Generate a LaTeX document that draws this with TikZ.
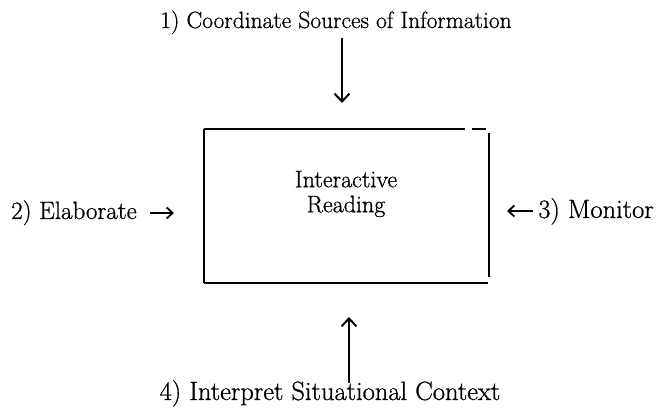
\documentclass[tikz,border=0pt]{standalone}
\usepackage{fontspec}
\newfontfamily\rfont{Latin Modern Roman}[FakeBold=0.8]
\usetikzlibrary{arrows.meta}
\begin{document}
\begin{tikzpicture}[x=1pt,y=-1pt,
  lbl/.style={anchor=base,inner sep=0pt},
  arr/.style={line width=2.2pt,-{Straight Barb[length=8pt,width=15pt,line width=2pt]}},
  sarr/.style={line width=1.8pt,-{Straight Barb[length=6pt,width=11pt,line width=1.8pt]}},
  edge/.style={line width=1.6pt}]
\useasboundingbox (0,0) rectangle (657,411);
% box
\node[minimum width=286pt,minimum height=154pt,inner sep=0pt] (box) at (347,206) {};
\node[align=center,inner sep=0pt,font=\rfont\fontsize{24}{25}\selectfont] (txt) at (346,194) {Interactive\\Reading};
\draw[edge] (box.north west) -- ([xshift=-25pt]box.north east);
\draw[edge] ([xshift=-18pt]box.north east) -- ([xshift=-4pt]box.north east);
\draw[edge] ([xshift=-1pt,yshift=-4pt]box.north east) -- ([xshift=-1pt,yshift=6pt]box.south east);
\draw[edge] (box.north west) -- (box.south west);
\draw[edge] (box.south west) -- ([xshift=-2pt]box.south east);
% labels
\node[lbl,font=\rfont\fontsize{23.5}{28}\selectfont] (t1) at (336,28) {1) Coordinate Sources of Information};
\node[lbl,font=\rfont\fontsize{25}{30}\selectfont] (t2) at (74,219) {2) Elaborate};
\node[lbl,font=\rfont\fontsize{26.5}{30}\selectfont] (t3) at (596,218) {3) Monitor};
\node[lbl,font=\rfont\fontsize{26.5}{30}\selectfont] (t4) at (330,400) {4) Interpret Situational Context};
% arrows
\coordinate (a1s) at (342,38); \coordinate (a1e) at (342,103);
\coordinate (a4s) at (349,383); \coordinate (a4e) at (349,317);
\coordinate (a2s) at (150,213); \coordinate (a2e) at (174,213);
\coordinate (a3s) at (533,211); \coordinate (a3e) at (507,211);
\draw[arr] (a1s) -- (a1e);
\draw[arr] (a4s) -- (a4e);
\draw[sarr] (a2s) -- (a2e);
\draw[sarr] (a3s) -- (a3e);
\end{tikzpicture}
\end{document}
